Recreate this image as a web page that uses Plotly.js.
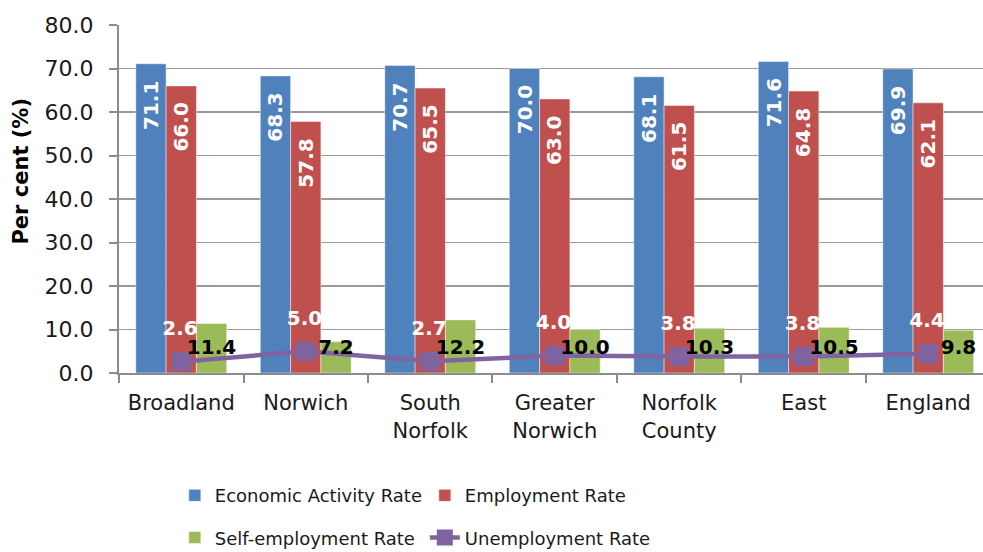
<!DOCTYPE html>
<html>
<head>
<meta charset="utf-8">
<script src="https://cdn.plot.ly/plotly-3.0.1.min.js"></script>
<style>html,body{margin:0;padding:0;background:#fff;}#chart{width:983px;height:552px;}</style>
</head>
<body>
<div id="chart"></div>
<script>
const categories = ['Broadland', 'Norwich', 'South Norfolk', 'Greater Norwich', 'Norfolk County', 'East', 'England'];
const tickLabels = ['Broadland', 'Norwich', 'South<br>Norfolk', 'Greater<br>Norwich', 'Norfolk<br>County', 'East', 'England'];
const economicActivity = [71.1, 68.3, 70.7, 70.0, 68.1, 71.6, 69.9];
const employment = [66.0, 57.8, 65.5, 63.0, 61.5, 64.8, 62.1];
const selfEmployment = [11.4, 7.2, 12.2, 10.0, 10.3, 10.5, 9.8];
const unemployment = [2.6, 5.0, 2.7, 4.0, 3.8, 3.8, 4.4];
const yTicks = [0, 10, 20, 30, 40, 50, 60, 70, 80];

const FONT = 'DejaVu Sans, Verdana, sans-serif';
const BLUE = '#4F81BD', RED = '#C0504D', GREEN = '#9BBB59', PURPLE = '#8064A2';
const xs = categories.map((c, i) => i);
const bargap = 0.27;
const bw = (1 - bargap) / 3;
const fmt = v => v.toFixed(1);

const barLine = {color: 'rgba(255,255,255,0.45)', width: 1};
const traces = [
  {type: 'bar', name: 'Economic Activity Rate', x: xs, y: economicActivity, marker: {color: BLUE, line: barLine}, legend: 'legend', hoverinfo: 'y'},
  {type: 'bar', name: 'Employment Rate', x: xs, y: employment, marker: {color: RED, line: barLine}, legend: 'legend', hoverinfo: 'y'},
  {type: 'bar', name: 'Self-employment Rate', x: xs, y: selfEmployment, marker: {color: GREEN, line: barLine}, legend: 'legend2', hoverinfo: 'y'},
  {type: 'scatter', mode: 'lines+markers', name: 'Unemployment Rate', x: xs, y: unemployment,
   line: {color: PURPLE, width: 4.5}, marker: {symbol: 'square', size: 19, color: PURPLE}, legend: 'legend2', cliponaxis: false},
  {type: 'scatter', mode: 'text', x: xs.map(i => i + bw), y: selfEmployment.map(() => 5.5), text: selfEmployment.map(fmt),
   textfont: {family: FONT, size: 20, color: '#000', weight: 'bold'}, showlegend: false, hoverinfo: 'skip', cliponaxis: false},
  {type: 'scatter', mode: 'text', x: xs.map(i => i - 0.01), y: unemployment.map(v => v + 7.3), text: unemployment.map(fmt),
   textfont: {family: FONT, size: 20, color: '#fff', weight: 'bold'}, showlegend: false, hoverinfo: 'skip', cliponaxis: false}
];

const annotations = [];
economicActivity.forEach((v, i) => annotations.push({x: i - bw, y: v - 9.5, xref: 'x', yref: 'y', text: fmt(v), textangle: -90, showarrow: false,
  xanchor: 'center', yanchor: 'middle', font: {family: FONT, size: 20, color: '#fff', weight: 'bold'}}));
employment.forEach((v, i) => annotations.push({x: i, y: v - 9.5, xref: 'x', yref: 'y', text: fmt(v), textangle: -90, showarrow: false,
  xanchor: 'center', yanchor: 'middle', font: {family: FONT, size: 20, color: '#fff', weight: 'bold'}}));
annotations.push({xref: 'paper', yref: 'paper', x: -0.113, y: 0.58, xanchor: 'center', yanchor: 'middle', text: 'Per cent (%)', textangle: -90, showarrow: false,
  font: {family: FONT, size: 21, color: '#000', weight: 'bold'}});

const layout = {
  width: 983, height: 552,
  margin: {l: 119, r: 0, t: 25, b: 179, autoexpand: false},
  paper_bgcolor: '#fff', plot_bgcolor: '#fff',
  barmode: 'group', bargap: bargap, bargroupgap: 0,
  showlegend: true,
  font: {family: FONT, size: 21, color: '#1a1a1a'},
  xaxis: {
    range: [-0.5, 6.44], tickmode: 'array', tickvals: xs, ticktext: tickLabels, ticks: '',
    ticklabelstandoff: 10, showgrid: false, zeroline: false,
    showline: true, linecolor: '#8c8c8c', linewidth: 2,
    tickfont: {family: FONT, size: 21, color: '#1a1a1a'},
    minor: {tickmode: 'array', tickvals: xs.map(i => i - 0.5).concat([6.5]), ticks: 'outside', ticklen: 8, tickwidth: 2, tickcolor: '#8c8c8c', showgrid: false}
  },
  yaxis: {
    range: [0, 80], tickmode: 'array', tickvals: yTicks, ticktext: yTicks.map(fmt),
    ticks: 'outside', ticklen: 8, tickwidth: 2, tickcolor: '#8c8c8c', ticklabelstandoff: 11,
    showgrid: true, gridcolor: '#999', gridwidth: 1.5, zeroline: false,
    showline: true, linecolor: '#8c8c8c', linewidth: 2,
    tickfont: {family: FONT, size: 22, color: '#1a1a1a'}
  },
  legend: {orientation: 'h', x: 0.0646, y: -0.3525, xanchor: 'left', yanchor: 'middle', entrywidth: 205, entrywidthmode: 'pixels',
    font: {family: FONT, size: 18, color: '#1a1a1a'}, bgcolor: 'rgba(0,0,0,0)', traceorder: 'normal'},
  legend2: {orientation: 'h', x: 0.0646, y: -0.4736, xanchor: 'left', yanchor: 'middle', entrywidth: 205, entrywidthmode: 'pixels',
    font: {family: FONT, size: 18, color: '#1a1a1a'}, bgcolor: 'rgba(0,0,0,0)', traceorder: 'normal'},
  annotations: annotations
};

Plotly.newPlot('chart', traces, layout, {displayModeBar: false, staticPlot: true});
</script>
</body>
</html>
